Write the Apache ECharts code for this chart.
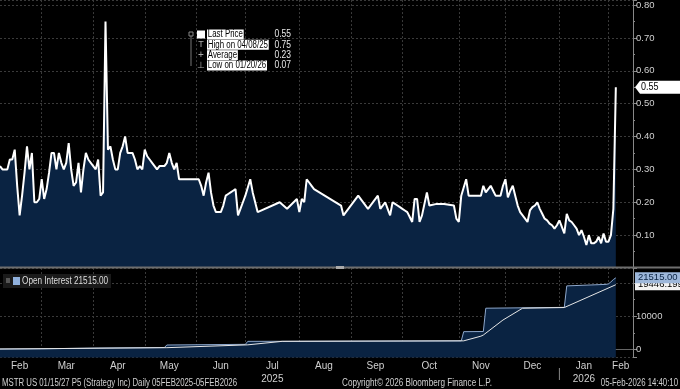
<!DOCTYPE html>
<html><head><meta charset="utf-8">
<script src="https://cdn.jsdelivr.net/npm/echarts@6/dist/echarts.min.js"></script>
<style>html,body{margin:0;padding:0;background:#000}#c{width:680px;height:389px}</style>
</head><body><div id="c"></div>
<script>
// ---- calendar (trading days) ----
const startDate = '2025-02-05';
const endDate = '2026-02-17';
const holidays = ['2025-02-17','2025-04-18','2025-05-26','2025-06-19','2025-07-04','2025-09-01','2025-11-27','2025-12-25','2026-01-01','2026-01-19','2026-02-16'];
const monthNames = ['Jan','Feb','Mar','Apr','May','Jun','Jul','Aug','Sep','Oct','Nov','Dec'];
const yearLabels = {'2025-07':'2025','2026-01':'2026'};

// ---- MSTR 01/15/27 P5 last price, one value per trading day (null = no print) ----
const priceValues = [
 .31,.30,.30,.30,.33,.33,.36,.25,.16,.22,
 .29,.37,.30,.35,.20,.20,.21,.27,.21,.24,
 .29,.35,.35,.30,.35,.32,.30,.32,.38,.30,
 .25,.26,.32,.23,.30,.35,.33,.32,.31,.30,
 .33,.22,.23,.75,.36,.37,.33,.30,.30,.35,
 .37,.40,.35,.35,.35,.33,.30,.31,.30,.36,
 .34,.33,.32,.31,.30,.31,.31,.31,.32,.35,
 .32,.30,.32,.27,.27,.27,.27,.27,.27,.27,
 .27,.27,.25,.22,.26,.29,.23,.19,.17,.17,
 .17,.19,.22,.225,.23,.235,.24,.16,.18,.20,
 .22,.245,.27,.23,.20,.17,null,null,null,null,
 null,null,null,null,.20,null,null,.18,null,null,
 null,.21,.17,.21,.20,.27,.26,.25,.24,null,
 null,null,null,null,null,null,null,null,null,.19,
 .16,null,null,null,null,null,.22,null,null,null,
 .18,null,null,null,.22,.18,.19,.20,.18,.16,
 .20,.195,.19,.185,.18,.175,.17,.155,.14,.21,
 .21,.14,.16,.195,.23,.19,null,null,.195,null,
 null,.195,null,null,null,.19,.15,.14,.22,.245,
 .27,.22,null,null,null,null,.22,.25,.23,.24,
 .25,.235,.22,.22,.22,.25,.27,.215,.235,.25,
 .22,.19,.17,.16,.15,.14,.175,.185,.19,.20,
 .18,.165,.15,.145,.135,.13,.12,.13,.145,.125,
 .105,.165,.145,.14,.13,.12,.10,.115,.095,.07,
 .10,.075,.075,.08,.095,.075,.105,.08,.08,.10,
 .18,.55
];

// ---- open interest (step) ----
const oiPoints = [
 ['2025-02-05',150],['2025-03-03',200],['2025-04-03',450],['2025-05-13',600],
 ['2025-05-14',1350],['2025-07-01',1550],['2025-07-02',2450],['2025-11-04',2600],
 ['2025-11-05',5350],['2025-11-17',5400],['2025-11-18',12400],['2026-01-06',12650],
 ['2026-01-07',19100],['2026-01-30',19550],['2026-02-02',19700],['2026-02-03',20300],
 ['2026-02-04',21000],['2026-02-05',21515]
];
// ---- open interest average line ----
const oiAvgPoints = [
 ['2025-02-05',150],['2025-05-14',550],['2025-07-02',1400],['2025-07-23',2450],
 ['2025-11-05',2600],['2025-11-14',4000],['2025-11-17',4350],['2025-11-28',8850],
 ['2025-12-10',12400],['2026-01-06',12600],['2026-02-05',19446.1992]
];

const legendLabels = ['Last Price','High on ','Average','Low on '];
const footerLeft = 'MSTR US 01/15/27 P5 (Strategy Inc) Daily 05FEB2025-05FEB2026';
const footerMid = 'Copyright\u00A9 2026 Bloomberg Finance L.P.';
const footerRight = '05-Feb-2026 14:40:10';

// ---- build categories ----
const dates = [];
for (let d = new Date(startDate + 'T00:00:00Z'); d <= new Date(endDate + 'T00:00:00Z'); d.setUTCDate(d.getUTCDate() + 1)) {
  const wd = d.getUTCDay();
  const s = d.toISOString().slice(0, 10);
  if (wd === 0 || wd === 6 || holidays.includes(s)) continue;
  dates.push(s);
}
const monthStart = new Set();
const groups = [];
let gs = 0;
for (let i = 1; i <= dates.length; i++) {
  if (i === dates.length || dates[i].slice(0, 7) !== dates[i - 1].slice(0, 7)) {
    groups.push([gs, i - 1]);
    if (i < dates.length) monthStart.add(i);
    gs = i;
  }
}
const labelIdx = new Set(groups.map(g => Math.round((g[0] + g[1]) / 2)));

const FONT = '"Liberation Sans",Arial,sans-serif';
const NAVY = '#0a2342';
const GRIDC = '#3a3a3a';

// stats for legend
const valid = priceValues.map((v, i) => [v, i]).filter(p => p[0] != null);
let hi = valid[0], lo = valid[0], sum = 0;
valid.forEach(p => { if (p[0] > hi[0]) hi = p; if (p[0] < lo[0]) lo = p; sum += p[0]; });
const lastP = valid[valid.length - 1][0];
const avgP = sum / valid.length;
const fmtD = s => s.slice(5, 7) + '/' + s.slice(8, 10) + '/' + s.slice(2, 4);
const legendValues = [lastP.toFixed(2), hi[0].toFixed(2), avgP.toFixed(2), lo[0].toFixed(2)];
const legendTexts = [legendLabels[0], legendLabels[1] + fmtD(dates[hi[1]]), legendLabels[2], legendLabels[3] + fmtD(dates[lo[1]])];
const oiLast = oiPoints[oiPoints.length - 1][1];
const avgLast = oiAvgPoints[oiAvgPoints.length - 1][1];

const chart = echarts.init(document.getElementById('c'), null, {renderer: 'canvas'});
const xBase = {
  type: 'category', data: dates, boundaryGap: false,
  splitLine: {show: true, interval: (i) => monthStart.has(i), lineStyle: {color: GRIDC, type: [2, 2], width: 1}}
};
const hiddenLine = {color: 'rgba(0,0,0,0)', width: 0};
chart.setOption({
  backgroundColor: '#000',
  animation: false,
  textStyle: {fontFamily: FONT},
  grid: [
    {left: 0, right: 47, top: 0, height: 268},
    {left: 0, right: 47, top: 268, height: 89.5}
  ],
  xAxis: [
    Object.assign({}, xBase, {gridIndex: 0, axisLine: {show: false}, axisTick: {show: false}, axisLabel: {show: false}}),
    Object.assign({}, xBase, {gridIndex: 1,
      axisLine: {show: true, lineStyle: {color: '#666', width: 1}},
      axisTick: {show: true, interval: (i) => monthStart.has(i), length: 4, lineStyle: {color: '#777'}},
      axisLabel: {show: true, interval: (i) => labelIdx.has(i), color: '#d0d0d0', fontSize: 10, margin: 2, lineHeight: 13,
        formatter: (v) => { const m = monthNames[+v.slice(5, 7) - 1]; const y = yearLabels[v.slice(0, 7)]; return y ? m + '\n' + y : m; }}
    })
  ],
  yAxis: [
    {gridIndex: 0, type: 'value', position: 'right', min: 0, max: 0.815, interval: 0.1,
      axisLine: {show: true, lineStyle: {color: '#888'}},
      axisTick: {show: true, length: 4, lineStyle: {color: '#888'}},
      minorTick: {show: true, splitNumber: 2, length: 2, lineStyle: {color: '#888'}},
      axisLabel: {color: '#d0d0d0', fontSize: 9.5, margin: 3,
        formatter: (v) => (v > 0.01 && Math.abs(v * 10 - Math.round(v * 10)) < 1e-6) ? v.toFixed(2) : ''},
      splitLine: {show: true, lineStyle: {color: GRIDC, type: [2, 2]}}
    },
    {gridIndex: 1, type: 'value', position: 'right', min: -2400, max: 24470, splitNumber: 3,
      axisLine: {show: true, lineStyle: {color: '#888'}},
      axisTick: {show: true, length: 4, lineStyle: {color: '#888'}},
      minorTick: {show: true, splitNumber: 2, length: 2, lineStyle: {color: '#888'}},
      axisLabel: {color: '#d0d0d0', fontSize: 9.5, margin: 3,
        formatter: (v) => (v === 0 || v === 10000) ? String(v) : ''},
      splitLine: {show: true, lineStyle: {color: GRIDC, type: [2, 2]}}
    }
  ],
  series: [
    {type: 'line', name: 'Last Price', xAxisIndex: 0, yAxisIndex: 0, data: priceValues, connectNulls: true,
      symbol: 'none', lineStyle: {color: '#fff', width: 2}, areaStyle: {color: NAVY, opacity: 1, origin: 'start'}},
    {type: 'line', name: 'Open Interest', xAxisIndex: 1, yAxisIndex: 1, data: oiPoints,
      symbol: 'none', lineStyle: {color: '#8ea8cc', width: 1}, areaStyle: {color: NAVY, opacity: 1, origin: 'start'}},
    {type: 'line', name: 'Avg', xAxisIndex: 1, yAxisIndex: 1, data: oiAvgPoints,
      symbol: 'none', lineStyle: {color: '#e6e6e6', width: 1},
      markLine: {silent: true, symbol: 'none', lineStyle: hiddenLine,
        label: {show: true, position: 'end', distance: 2, fontSize: 9.5, fontFamily: FONT, padding: [1, 3, 0, 3]},
        data: [
          {yAxis: avgLast, label: {formatter: String(avgLast), color: '#000', backgroundColor: '#f2f2f2'}},
          {yAxis: oiLast, label: {formatter: oiLast.toFixed(2), color: '#0a2342', backgroundColor: '#9db7da'}}
        ]}
    }
  ]
});

// ---- decorations ----
const g = [];
const txt = (x, y, text, opt, sx) => g.push({type: 'text', x, y, z: 100, scaleX: sx || 0.8,
  style: Object.assign({text, fill: '#d0d0d0', fontSize: 10, fontFamily: FONT, verticalAlign: 'middle'}, opt || {})});
// panel separators
g.push({type: 'rect', z: 90, shape: {x: 0, y: 266.5, width: 680, height: 2}, style: {fill: '#6e6e6e'}});
g.push({type: 'rect', z: 91, shape: {x: 336, y: 266, width: 8, height: 3}, style: {fill: '#aaa'}});
// last price tag on the axis
const tagY = chart.convertToPixel({yAxisIndex: 0}, lastP);
const axX = chart.convertToPixel({xAxisIndex: 0}, dates.length - 1);
g.push({type: 'polygon', z: 100, shape: {points: [[axX + 2, tagY], [axX + 7, tagY - 6.5], [680, tagY - 6.5], [680, tagY + 6.5], [axX + 7, tagY + 6.5]]}, style: {fill: '#fff'}});
txt(axX + 8, tagY + 0.5, lastP.toFixed(2), {fill: '#000'}, 0.9);
// top legend
g.push({type: 'line', z: 100, shape: {x1: 191, y1: 35, x2: 191, y2: 66}, style: {stroke: '#777', lineWidth: 1}});
g.push({type: 'rect', z: 100, shape: {x: 189, y: 32, width: 4, height: 4}, style: {fill: '#000', stroke: '#888', lineWidth: 1}});
const rowY = [34.5, 44.8, 55.2, 65.5];
g.push({type: 'rect', z: 100, shape: {x: 197, y: 30.5, width: 8, height: 8}, style: {fill: '#fff'}});
txt(201, rowY[1], 'T', {fill: '#aaa', align: 'center', fontSize: 9}, 1);
txt(201, rowY[2], '+', {fill: '#aaa', align: 'center', fontSize: 10}, 1);
txt(201, rowY[3], '\u22A5', {fill: '#aaa', align: 'center', fontSize: 9}, 1);
legendTexts.forEach((t, i) => {
  txt(207, rowY[i], t, {fill: '#000', backgroundColor: '#fff', padding: [0, 1, 0, 1], lineHeight: 10}, 0.79);
  txt(291, rowY[i], legendValues[i], {fill: '#e8e8e8', align: 'right'}, 0.85);
});
// bottom legend
g.push({type: 'rect', z: 99, shape: {x: 3, y: 274, width: 108, height: 14}, style: {fill: '#1a1a1a'}});
g.push({type: 'rect', z: 100, shape: {x: 6, y: 278, width: 4, height: 5}, style: {fill: '#555'}});
g.push({type: 'rect', z: 100, shape: {x: 13, y: 277, width: 7, height: 8}, style: {fill: '#8fb0dc'}});
txt(22, 281, 'Open Interest ' + oiLast.toFixed(2), {fill: '#dedede'}, 0.82);
// footer
txt(2, 383, footerLeft, {fill: '#d0d0d0'}, 0.78);
txt(342, 383, footerMid, {fill: '#d0d0d0'}, 0.815);
txt(678, 383, footerRight, {fill: '#d0d0d0', align: 'right'}, 0.78);
// year separator under axis
const yb = groups.find(gr => dates[gr[0]].slice(0, 7) === '2026-01');
if (yb) {
  const px = chart.convertToPixel({xAxisIndex: 1}, yb[0]);
  g.push({type: 'line', z: 100, shape: {x1: px, y1: 368, x2: px, y2: 380}, style: {stroke: '#888', lineWidth: 1}});
}
chart.setOption({graphic: {elements: g}});
</script></body></html>
